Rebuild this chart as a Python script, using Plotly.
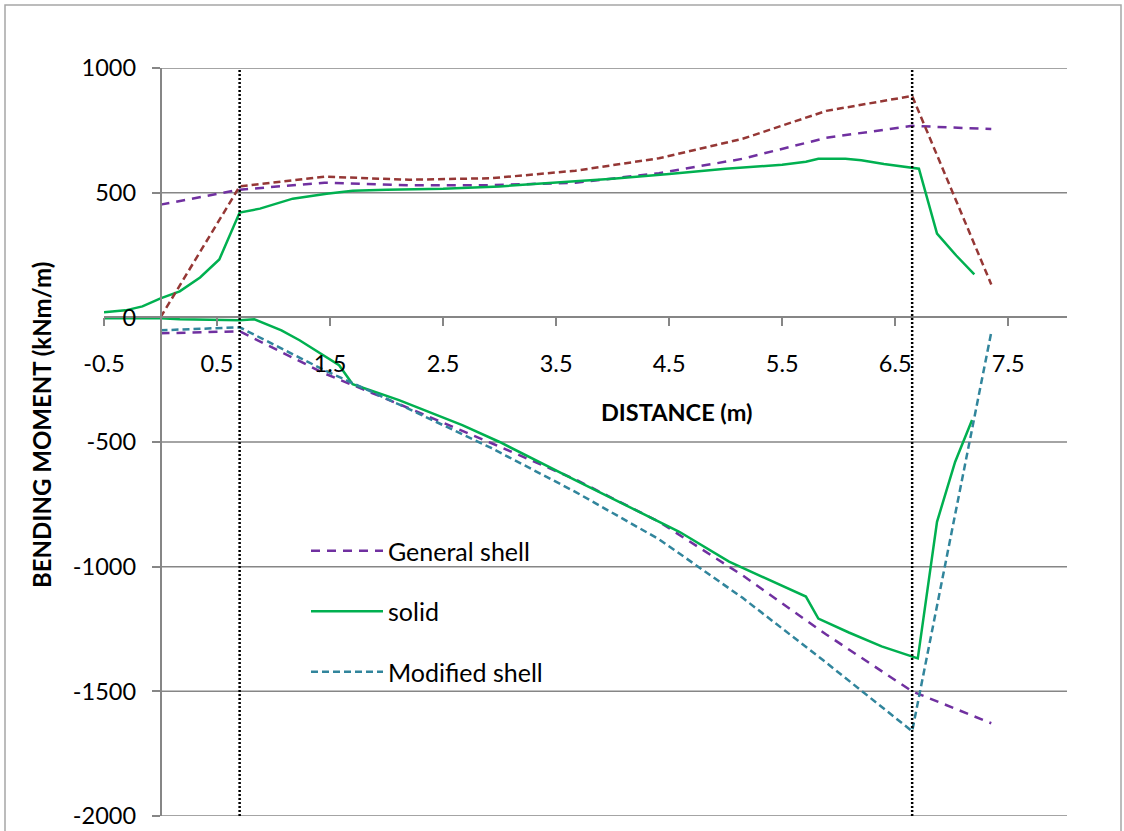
import plotly.graph_objects as go

# ---------------- data ----------------
x_shell = [0, 0.7, 1.45, 2.2, 2.93, 3.67, 4.41, 5.15, 5.89, 6.65, 7.35]
general_upper = [452, 512, 540, 530, 530, 540, 578, 636, 720, 768, 755]
general_lower = [-64, -56, -225, -365, -505, -650, -820, -1035, -1272, -1500, -1628]
modified_upper = [0, 525, 564, 552, 558, 588, 638, 716, 828, 888, 132]
modified_lower = [-52, -40, -212, -368, -525, -700, -890, -1125, -1385, -1660, -60]

x_solid_upper = [-0.5, -0.31, -0.16, 0, 0.17, 0.35, 0.52, 0.7, 0.88, 1.17, 1.47, 1.7, 2.0,
                 2.5, 3.0, 3.5, 4.0, 4.5, 5.0, 5.5, 5.71, 5.82, 6.06, 6.2, 6.4, 6.71, 6.87,
                 7.04, 7.2]
solid_upper = [20, 28, 44, 76, 104, 160, 232, 420, 436, 476, 496, 508, 512,
               516, 525, 540, 556, 575, 596, 612, 624, 636, 636, 630, 615, 596, 336,
               248, 172]

x_solid_lower = [-0.5, 0, 0.17, 0.7, 0.83, 1.07, 1.23, 1.58, 1.7, 2.11, 2.67, 3.0, 3.7,
                 4.59, 5.03, 5.71, 5.82, 6.09, 6.38, 6.7, 6.87, 7.03, 7.18]
solid_lower = [-4, -4, -8, -12, -8, -52, -92, -192, -268, -332, -432, -500, -660,
               -860, -980, -1120, -1208, -1264, -1320, -1368, -820, -580, -412]

support_x = [0.7, 6.65]

x_ticks = [-0.5, 0.5, 1.5, 2.5, 3.5, 4.5, 5.5, 6.5, 7.5]
y_ticks = [-2000, -1500, -1000, -500, 0, 500, 1000]
X_RANGE = [-0.5, 8.02]
Y_RANGE = [-2000, 1000]

# ---------------- style ----------------
PURPLE = "#7030A0"
GREEN = "#00B050"
TEAL = "#31859C"
BROWN = "#953735"
GRID = "#868686"
FONT = "Lato"

W, H = 1124, 841
ML, MR, MT, MB = 104, 57, 68, 25
PW, PH = W - ML - MR, H - MT - MB


def px_x(p):
    return (p - ML) / PW


def px_y(p):
    return (H - MB - p) / PH


fig = go.Figure()

fig.add_trace(go.Scatter(x=x_shell, y=general_upper, mode="lines", name="General shell",
                         legendgroup="g1", line=dict(color=PURPLE, width=2.5, dash="9px,7px")))
fig.add_trace(go.Scatter(x=x_shell, y=general_lower, mode="lines", name="General shell",
                         legendgroup="g1", showlegend=False,
                         line=dict(color=PURPLE, width=2.5, dash="9px,7px")))
fig.add_trace(go.Scatter(x=x_solid_upper, y=solid_upper, mode="lines", name="solid",
                         legendgroup="g2", line=dict(color=GREEN, width=2.5)))
fig.add_trace(go.Scatter(x=x_solid_lower, y=solid_lower, mode="lines", name="solid",
                         legendgroup="g2", showlegend=False, line=dict(color=GREEN, width=2.5)))
fig.add_trace(go.Scatter(x=x_shell, y=modified_upper, mode="lines", name="Modified shell (+)",
                         showlegend=False, line=dict(color=BROWN, width=2.5, dash="7px,4px")))
fig.add_trace(go.Scatter(x=x_shell, y=modified_lower, mode="lines", name="Modified shell",
                         legendgroup="g3", line=dict(color=TEAL, width=2.5, dash="7px,4px")))

shapes = []
# horizontal gridlines starting at the vertical axis (x = 0)
for yv in y_ticks:
    if yv == 0:
        continue
    shapes.append(dict(type="line", xref="x", yref="y", x0=0, x1=X_RANGE[1], y0=yv, y1=yv,
                       line=dict(color=GRID, width=1.5), layer="below"))
# dotted support lines
for xv in support_x:
    shapes.append(dict(type="line", xref="x", yref="y domain", x0=xv, x1=xv, y0=0, y1=1,
                       line=dict(color="black", width=2.5, dash="2px,2px"), layer="above"))
# outer chart border (left, top, right)
border = dict(color="#A6A6A6", width=1.5)
bx0, bx1, by0, by1 = px_x(5), px_x(1121), px_y(H), px_y(5)
shapes.append(dict(type="path", xref="paper", yref="paper",
                   path=f"M {bx0},{by0} L {bx0},{by1} L {bx1},{by1} L {bx1},{by0}",
                   line=border))

x0_frac = (0 - X_RANGE[0]) / (X_RANGE[1] - X_RANGE[0])
y0_frac = (0 - Y_RANGE[0]) / (Y_RANGE[1] - Y_RANGE[0])

fig.update_layout(
    width=W, height=H, autosize=False,
    margin=dict(l=ML, r=MR, t=MT, b=MB, pad=0),
    paper_bgcolor="white", plot_bgcolor="white",
    font=dict(family=FONT, size=23, color="black"),
    shapes=shapes,
    showlegend=True,
    legend=dict(x=px_x(306), y=px_y(528), xanchor="left", yanchor="top",
                bgcolor="rgba(0,0,0,0)", font=dict(family=FONT, size=25, color="black"),
                itemwidth=72, tracegroupgap=25),
    xaxis=dict(range=X_RANGE, anchor="free", position=y0_frac, tickvals=x_ticks,
               ticktext=[f"{v:g}" for v in x_ticks], showgrid=False, zeroline=False,
               showline=True, linecolor=GRID, linewidth=1.5, ticks="outside", ticklen=8,
               tickcolor=GRID, tickwidth=1.5, ticklabelstandoff=18,
               tickfont=dict(family=FONT, size=23.5, color="black")),
    yaxis=dict(range=Y_RANGE, anchor="free", position=x0_frac, tickvals=y_ticks,
               ticktext=[f"{v:g}" for v in y_ticks], showgrid=False, zeroline=False,
               showline=True, linecolor=GRID, linewidth=1.5, ticks="outside", ticklen=8,
               tickcolor=GRID, tickwidth=1.5, ticklabelstandoff=11,
               tickfont=dict(family=FONT, size=23.5, color="black")),
    annotations=[
        dict(text="<b>DISTANCE (m)</b>", xref="paper", yref="paper",
             x=px_x(676), y=px_y(412), xanchor="center", yanchor="middle",
             showarrow=False, font=dict(family=FONT, size=23.5, color="black")),
        dict(text="<b>BENDING MOMENT (kNm/m)</b>", xref="paper", yref="paper",
             x=px_x(41), y=px_y(425), xanchor="center", yanchor="middle",
             textangle=-90, showarrow=False, font=dict(family=FONT, size=24, color="black")),
    ],
)

fig.write_html("out.html",
               config={"displayModeBar": False, "responsive": False},
               post_script="document.documentElement.style.overflow='hidden';"
                           "document.body.style.margin='0';document.body.style.overflow='hidden';")
